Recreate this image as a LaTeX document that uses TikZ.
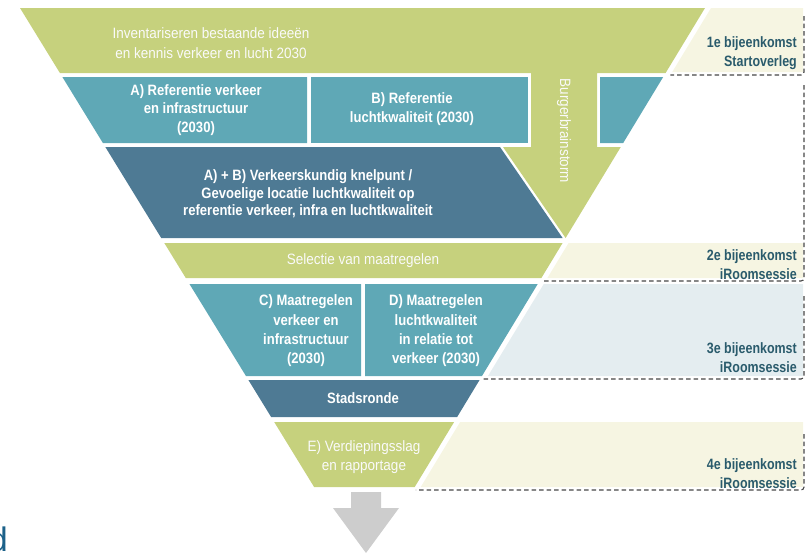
\documentclass[tikz,border=0pt]{standalone}
\usepackage{fontspec}
\setmainfont{Liberation Sans}
\newfontfamily\nar{Liberation Sans}[FakeStretch=0.87]
\newfontfamily\narr{Liberation Sans}[FakeStretch=0.9]
\newfontfamily\narl{Liberation Sans}[FakeStretch=0.83]
\definecolor{fgreen}{HTML}{C6D17D}
\definecolor{fteal}{HTML}{5FA8B6}
\definecolor{fdark}{HTML}{4E7A94}
\definecolor{pcream}{HTML}{F6F5E2}
\definecolor{pblue}{HTML}{E4EDF0}
\definecolor{labelc}{HTML}{2A5B6C}
\definecolor{arrowgray}{HTML}{CDCDCD}
\definecolor{dblue}{HTML}{1C6189}
\definecolor{dashc}{HTML}{474747}
\tikzset{
  boxtxt/.style={font=\nar\bfseries\fontsize{15}{18.5}\selectfont, text=white, align=center, inner sep=0pt},
  lighttxt/.style={font=\narr\fontsize{15}{20}\selectfont, text=white!96!gray, align=center, inner sep=0pt},
  lbl/.style={font=\narl\bfseries\fontsize{15}{19}\selectfont, text=labelc, align=right, anchor=east, inner sep=0pt},
  sessionline/.style={draw=dashc, line width=1.1pt, dash pattern=on 4.5pt off 3pt, rounded corners=3pt},
}
\begin{document}
\begin{tikzpicture}[x=1pt,y=-1pt,
  declare function={xl(\t)=20+0.614*(\t-8); xr(\t)=705-0.606*(\t-8);}]
\useasboundingbox (0,0) rectangle (809,552);
% session panels (fills)
\fill[pcream] ({xr(8)+6},8) -- (803,8) -- (803,72) -- ({xr(72)+6},72) -- cycle;
\fill[pcream] ({xr(243)+6},243) -- (803,243) -- (803,278) -- ({xr(278)+6},278) -- cycle;
\fill[pblue]  ({xr(284)+6},284) -- (803,284) -- (803,376) -- ({xr(376)+6},376) -- cycle;
\fill[pcream] ({xr(422)+6},422) -- (803,422) -- (803,487) -- ({xr(487)+6},487) -- cycle;
% session dashed outlines
\draw[sessionline] (804,16) -- (804,75) -- ({xr(75)+6},75);
\draw[sessionline] (804,85) -- (804,281) -- ({xr(281)+4},281);
\draw[sessionline] (804,296) -- (804,379) -- ({xr(379)+3},379);
\draw[sessionline] (804,434) -- (804,490) -- ({xr(490)+3},490);
% green top with Burgerbrainstorm band
\fill[fgreen] ({xl(8)},8) -- ({xr(8)},8) -- ({xr(73)},73) -- (597,73) -- (597,147)
  -- ({xr(147)},147) -- ({xr(238)},238) -- (503,147) -- (531,147) -- (531,73)
  -- ({xl(73)},73) -- cycle;
% row 2
\fill[fteal] ({xl(77)},77) -- (307,77) -- (307,143) -- ({xl(143)},143) -- cycle;
\fill[fteal] (311,77) -- (528,77) -- (528,143) -- (311,143) -- cycle;
\fill[fteal] (600,77) -- ({xr(77)},77) -- ({xr(143)},143) -- (600,143) -- cycle;
% row 3
\fill[fdark] ({xl(147)},147) -- (500,147) -- ({xr(238)-3},238) -- ({xl(238)},238) -- cycle;
% row 4
\fill[fgreen] ({xl(243)},243) -- ({xr(243)},243) -- ({xr(278)},278) -- ({xl(278)},278) -- cycle;
% row 5
\fill[fteal] ({xl(284)},284) -- (361,284) -- (361,376) -- ({xl(376)},376) -- cycle;
\fill[fteal] (365,284) -- ({xr(284)},284) -- ({xr(376)},376) -- (365,376) -- cycle;
% row 6
\fill[fdark] ({xl(380)},380) -- ({xr(380)},380) -- ({xr(417)},417) -- ({xl(417)},417) -- cycle;
% row 7
\fill[fgreen] ({xl(422)},422) -- ({xr(422)},422) -- ({xr(487)},487) -- ({xl(487)},487) -- cycle;
% arrow
\fill[arrowgray] (351,492) -- (381,492) -- (381,508) -- (399,508) -- (366,553) -- (333,508) -- (351,508) -- cycle;
% texts
\node[lighttxt] (t1) at (211,43) {Inventariseren bestaande ideeën\\en kennis verkeer en lucht 2030};
\node[boxtxt] (ta) at (196,110) {A) Referentie verkeer\\en infrastructuur\\(2030)};
\node[boxtxt] (tb) at (412,109) {B) Referentie\\luchtkwaliteit (2030)};
\node[boxtxt, font=\nar\bfseries\fontsize{15}{17.5}\selectfont] (tab) at (308,194) {A) + B) Verkeerskundig knelpunt /\\Gevoelige locatie luchtkwaliteit op\\referentie verkeer, infra en luchtkwaliteit};
\node[lighttxt, rotate=-90] (tbb) at (564,131) {Burgerbrainstorm};
\node[lighttxt] (tsel) at (363,261) {Selectie van maatregelen};
\node[boxtxt, font=\nar\bfseries\fontsize{15}{19.3}\selectfont] (tc) at (306,331) {C) Maatregelen\\verkeer en\\infrastructuur\\(2030)};
\node[boxtxt, font=\nar\bfseries\fontsize{15}{19.3}\selectfont] (td) at (436,331) {D) Maatregelen\\luchtkwaliteit\\in relatie tot\\verkeer (2030)};
\node[boxtxt] (ts) at (363,398) {Stadsronde};
\node[lighttxt, font=\narr\fontsize{15}{18.5}\selectfont] (te) at (364,457) {E) Verdiepingsslag\\en rapportage};
\node[lbl] (l1) at (797,53) {1e bijeenkomst\\Startoverleg};
\node[lbl] (l2) at (797,265) {2e bijeenkomst\\iRoomsessie};
\node[lbl] (l3) at (797,358) {3e bijeenkomst\\iRoomsessie};
\node[lbl] (l4) at (797,474) {4e bijeenkomst\\iRoomsessie};
\node[font=\fontsize{34}{34}\selectfont, text=dblue, anchor=base east, inner sep=0pt] (dd) at (8,551) {d};
\end{tikzpicture}
\end{document}
